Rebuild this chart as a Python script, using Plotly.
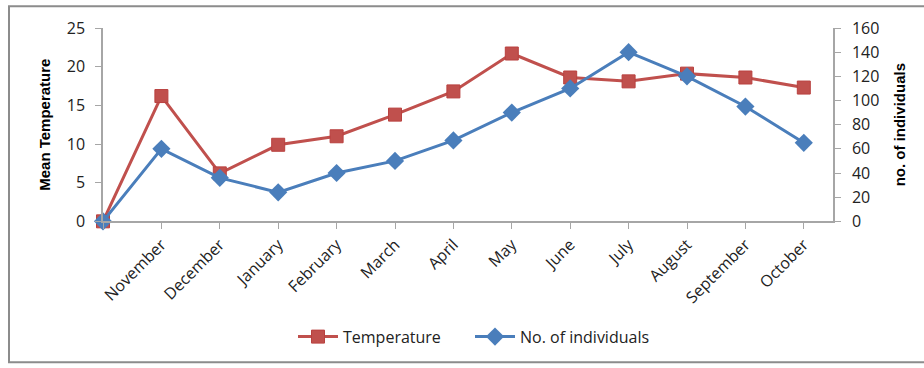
import plotly.graph_objects as go

months = ["", "November", "December", "January", "February", "March", "April",
          "May", "June", "July", "August", "September", "October"]
temperature = [0, 16.2, 6.2, 9.9, 11.0, 13.8, 16.8, 21.7, 18.6, 18.1, 19.1, 18.6, 17.3]
individuals = [0, 60, 36, 24, 40, 50, 67, 90, 110, 140, 120, 95, 65]

xpos = list(range(len(months)))
FONT = "Open Sans"
AX = "#A6A6A6"
TXT = "#222222"

fig = go.Figure()
fig.add_trace(go.Scatter(
    x=xpos, y=temperature, name="Temperature", mode="lines+markers",
    line=dict(color="#C0504D", width=3), cliponaxis=False,
    marker=dict(symbol="square", size=13, color="#C0504D",
                line=dict(color="#B9413F", width=1)),
    yaxis="y", legend="legend"))
fig.add_trace(go.Scatter(
    x=xpos, y=individuals, name="No. of individuals", mode="lines+markers",
    line=dict(color="#4A7EBB", width=3), cliponaxis=False,
    marker=dict(symbol="diamond", size=14, color="#4A7EBB"),
    yaxis="y2", legend="legend2"))

leg_common = dict(orientation="h", xref="container", yref="container",
                  y=0.085, yanchor="middle", xanchor="left",
                  font=dict(size=16, family=FONT, color=TXT),
                  itemwidth=40, bgcolor="rgba(0,0,0,0)")

fig.update_layout(
    width=924, height=368,
    margin=dict(l=103, r=91, t=28, b=145),
    paper_bgcolor="white", plot_bgcolor="white",
    font=dict(family=FONT, size=15, color=TXT),
    showlegend=True,
    legend=dict(x=293 / 924, **leg_common),
    legend2=dict(x=470 / 924, **leg_common),
    xaxis=dict(
        range=[0, 12.5], tickmode="array", tickvals=xpos, ticktext=months,
        tickangle=-45, showgrid=False, zeroline=False,
        showline=True, linecolor=AX, linewidth=1.5,
        ticks="outside", ticklen=6, tickcolor=AX,
        tickfont=dict(size=16, family=FONT, color=TXT)),
    yaxis=dict(
        range=[0, 25], dtick=5, showgrid=False, zeroline=False,
        showline=True, linecolor=AX, linewidth=1.5,
        ticks="outside", ticklen=6, tickcolor=AX, ticklabelstandoff=7,
        tickfont=dict(size=16, family=FONT, color=TXT),
        title=dict(text="<b>Mean Temperature</b>",
                   font=dict(size=15, family="Liberation Sans", color="black"),
                   standoff=12)),
    yaxis2=dict(
        range=[0, 160], dtick=20, overlaying="y", side="right",
        showgrid=False, zeroline=False,
        showline=True, linecolor=AX, linewidth=1.5,
        ticks="outside", ticklen=6, tickcolor=AX, ticklabelstandoff=8,
        tickfont=dict(size=16, family=FONT, color=TXT),
        title=dict(text="<b>no. of individuals</b>",
                   font=dict(size=15, family="Liberation Sans", color="black"),
                   standoff=16)),
    shapes=[dict(type="rect", xref="paper", yref="paper",
                 x0=(9 - 103) / 730, x1=1.2, y0=(223 - 365) / 195, y1=(223 - 6) / 195,
                 line=dict(color="#8C8C8C", width=2), fillcolor="rgba(0,0,0,0)",
                 layer="below")],
)

fig.write_html("out.html", config={"displayModeBar": False},
               post_script="document.body.style.margin='0';document.body.style.overflow='hidden';")
